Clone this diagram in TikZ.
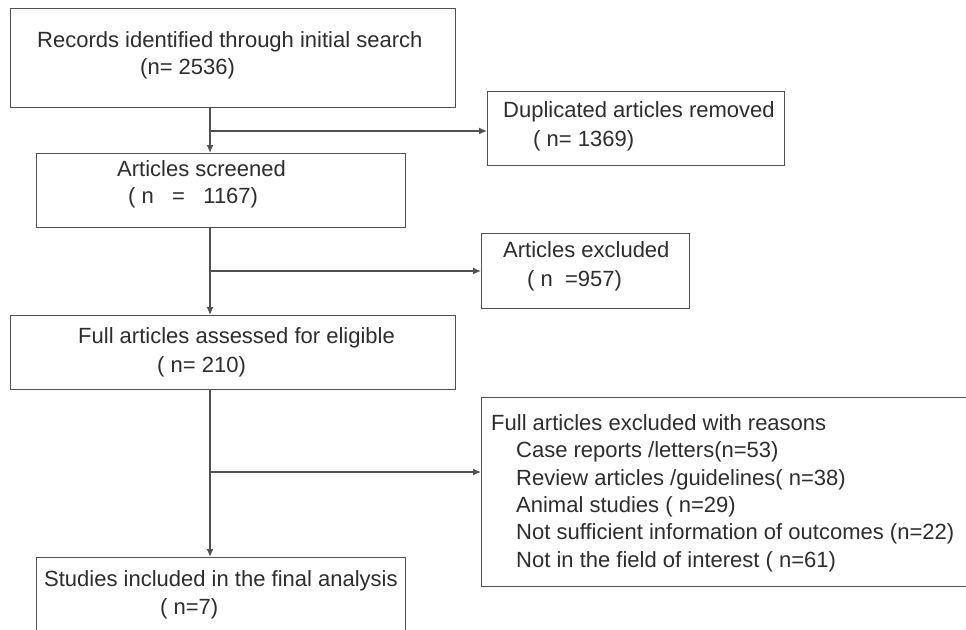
\documentclass[tikz,border=0pt]{standalone}
\usepackage{fontspec}
\setmainfont{Liberation Sans}
\usetikzlibrary{arrows.meta}
\definecolor{linegray}{RGB}{80,80,80}
\definecolor{textgray}{RGB}{45,45,45}
\tikzset{
  box/.style={draw=linegray, line width=1.4pt, inner sep=0pt, anchor=north west},
  txt/.style={anchor=base west, inner sep=0pt, text=textgray, font=\fontsize{22}{26}\selectfont},
  arr/.style={draw=linegray, line width=1.4pt, -{Latex[length=8pt,width=7pt]}},
  lin/.style={draw=linegray, line width=1.4pt}
}
\begin{document}
\begin{tikzpicture}[x=1pt,y=-1pt]
    \clip (0,0) rectangle (966,629);
    \fill[white] (0,0) rectangle (966,629);
    \node[box, minimum width=445pt, minimum height=99pt] (rec) at (10,8) {};
    \node[txt] (rec1) at (37,47) {Records identified through initial search};
    \node[txt] (rec2) at (140,74) {(n= 2536)};
    \node[box, minimum width=297pt, minimum height=74pt] (dup) at (487,91) {};
    \node[txt] (dup1) at (503,117) {Duplicated articles removed};
    \node[txt] (dup2) at (533,146) {( n= 1369)};
    \node[box, minimum width=369pt, minimum height=74pt] (scr) at (36,153) {};
    \node[txt] (scr1) at (117,176) {Articles screened};
    \node[txt] (scr2) at (128,203) {( n \ \ = \ \ 1167)};
    \node[box, minimum width=208pt, minimum height=75pt] (exc) at (481,233) {};
    \node[txt] (exc1) at (503,257) {Articles excluded};
    \node[txt] (exc2) at (527,286) {( n \ =957)};
    \node[box, minimum width=445pt, minimum height=74pt] (full) at (10,315) {};
    \node[txt] (full1) at (78,343) {Full articles assessed for eligible};
    \node[txt] (full2) at (157,372) {( n= 210)};
    \node[box, minimum width=500pt, minimum height=189pt] (rsn) at (481,397) {};
    \node[txt] (rsn1) at (491,430) {Full articles excluded with reasons};
    \node[txt] (rsn2) at (516,457) {Case reports /letters(n=53)};
    \node[txt] (rsn3) at (516,485) {Review articles /guidelines( n=38)};
    \node[txt] (rsn4) at (516,512) {Animal studies ( n=29)};
    \node[txt] (rsn5) at (516,539) {Not sufficient information of outcomes (n=22)};
    \node[txt] (rsn6) at (516,567) {Not in the field of interest ( n=61)};
    \node[box, minimum width=369pt, minimum height=90pt] (inc) at (36,557) {};
    \node[txt] (inc1) at (44,586) {Studies included in the final analysis};
    \node[txt] (inc2) at (160,614) {( n=7)};
    \coordinate (trunk) at (210,0);
    \coordinate (b1) at (210,131);
    \coordinate (b2) at (210,271);
    \coordinate (b3) at (210,472);
    \draw[arr] (trunk |- rec.south) -- (trunk |- scr.north);
    \draw[arr] (b1) -- (b1 -| dup.west);
    \draw[arr] (trunk |- scr.south) -- (trunk |- full.north);
    \draw[arr] (b2) -- (b2 -| exc.west);
    \draw[arr] (trunk |- full.south) -- (trunk |- inc.north);
    \draw[arr] (b3) -- (b3 -| rsn.west);
\end{tikzpicture}
\end{document}
